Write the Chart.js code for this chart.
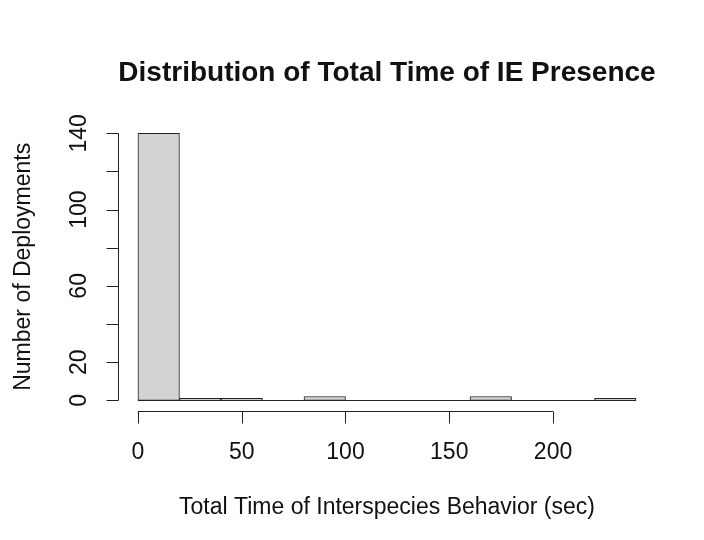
<!DOCTYPE html>
<html>
<head>
<meta charset="utf-8">
<title>IE Presence</title>
<script src="https://cdn.jsdelivr.net/npm/chart.js@4.4.0/dist/chart.umd.min.js"></script>
<style>
  body { margin: 0; background: #fff; }
  #wrap { width: 704px; height: 540px; }
</style>
</head>
<body>
<div id="wrap"><canvas id="histChart" width="704" height="540"></canvas></div>
<script>
// histogram bins (sec) and counts per bin
const binStarts = [0, 20, 40, 60, 80, 100, 120, 140, 160, 180, 200, 220];
const binWidth = 20;
const deployments = [140, 1, 1, 0, 2, 0, 0, 0, 2, 0, 0, 1];

// axis ticks, R style (some y labels skipped)
const xTicks = [0, 50, 100, 150, 200];
const yTicks = [0, 20, 40, 60, 80, 100, 120, 140];
const yTickLabels = ['0', '20', '', '60', '', '100', '', '140'];

const FONT = '"Liberation Sans", Arial, sans-serif';
const TICK_LEN = 12;

// draws the axes like base R graphics: line only between first and last tick
const rAxes = {
    id: 'rAxes',
    afterDatasetsDraw(chart) {
        const ctx = chart.ctx;
        const area = chart.chartArea;
        const xs = chart.scales.x;
        const ys = chart.scales.y;

        ctx.save();
        ctx.strokeStyle = '#222';
        ctx.lineWidth = 1;

        // zero baseline under the empty bins
        const y0 = Math.round(ys.getPixelForValue(0)) + 0.5;
        ctx.beginPath();
        ctx.moveTo(xs.getPixelForValue(binStarts[0]), y0);
        ctx.lineTo(xs.getPixelForValue(binStarts[binStarts.length - 1] + binWidth), y0);
        ctx.stroke();

        // x axis
        const ax = Math.round(area.bottom) + 0.5;
        ctx.beginPath();
        ctx.moveTo(xs.getPixelForValue(xTicks[0]), ax);
        ctx.lineTo(xs.getPixelForValue(xTicks[xTicks.length - 1]), ax);
        xTicks.forEach(v => {
            const px = Math.round(xs.getPixelForValue(v)) + 0.5;
            ctx.moveTo(px, ax);
            ctx.lineTo(px, ax + TICK_LEN);
        });
        ctx.stroke();

        // y axis
        const ay = Math.round(area.left) + 0.5;
        ctx.beginPath();
        ctx.moveTo(ay, ys.getPixelForValue(yTicks[0]));
        ctx.lineTo(ay, ys.getPixelForValue(yTicks[yTicks.length - 1]));
        yTicks.forEach(v => {
            const py = Math.round(ys.getPixelForValue(v)) + 0.5;
            ctx.moveTo(ay, py);
            ctx.lineTo(ay - TICK_LEN, py);
        });
        ctx.stroke();

        ctx.fillStyle = '#111';
        ctx.font = '23px ' + FONT;
        ctx.textAlign = 'center';
        ctx.textBaseline = 'middle';
        xTicks.forEach(v => {
            ctx.fillText(String(v), xs.getPixelForValue(v), ax + 41);
        });

        yTicks.forEach((v, i) => {
            if (!yTickLabels[i]) return;
            ctx.save();
            ctx.translate(ay - 39, ys.getPixelForValue(v));
            ctx.rotate(-Math.PI / 2);
            ctx.fillText(yTickLabels[i], 0, 0);
            ctx.restore();
        });

        // axis titles
        ctx.fillText('Total Time of Interspecies Behavior (sec)', (area.left + area.right) / 2, ax + 96);
        ctx.save();
        ctx.translate(24, (area.top + area.bottom) / 2);
        ctx.rotate(-Math.PI / 2);
        ctx.fillText('Number of Deployments', 0, 0);
        ctx.restore();

        ctx.restore();
    }
};

const ctx = document.getElementById('histChart').getContext('2d');
new Chart(ctx, {
    type: 'bar',
    data: {
        datasets: [{
            data: binStarts.map((s, i) => ({ x: s + binWidth / 2, y: deployments[i] })),
            backgroundColor: '#d3d3d3',
            borderColor: '#222',
            borderWidth: 1,
            borderSkipped: false,
            barPercentage: 1,
            categoryPercentage: 1
        }]
    },
    options: {
        responsive: false,
        animation: false,
        layout: {
            padding: { left: 118, right: 48, top: 0, bottom: 129 }
        },
        plugins: {
            legend: { display: false },
            tooltip: { enabled: false },
            title: {
                display: true,
                text: 'Distribution of Total Time of IE Presence',
                color: '#111',
                font: { family: FONT, size: 28, weight: 'bold', lineHeight: 1.2 },
                padding: { top: 56, bottom: 33 }
            }
        },
        scales: {
            x: {
                type: 'linear',
                display: false,
                offset: false,
                min: -9.6,
                max: 249.6
            },
            y: {
                display: false,
                min: -5.6,
                max: 145.6
            }
        }
    },
    plugins: [rAxes]
});
</script>
</body>
</html>
